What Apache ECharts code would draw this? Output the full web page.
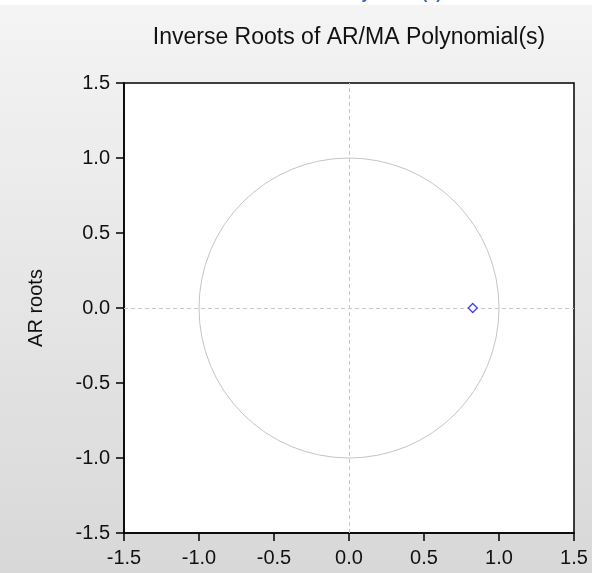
<!DOCTYPE html>
<html>
<head>
<meta charset="utf-8">
<script src="https://cdn.jsdelivr.net/npm/echarts@6/dist/echarts.min.js"></script>
<style>
html,body{margin:0;padding:0;}
#main{width:592px;height:573px;}
</style>
</head>
<body>
<div id="main"></div>
<script>
// Data
const titleText = "Inverse Roots of AR/MA Polynomial(s)";
const yAxisName = "AR roots";
const axisMin = -1.5;
const axisMax = 1.5;
const axisStep = 0.5;
const arRootsRe = [0.825];
const arRootsIm = [0.0];
const unitCircle = [[0, 0, 1]]; // centre x, centre y, radius

const chart = echarts.init(document.getElementById('main'), null, {renderer: 'canvas'});
const font = 'Arial, "Liberation Sans", sans-serif';

const rootPoints = arRootsRe.map((re, i) => [re, arRootsIm[i]]);

const axisCommon = {
  type: 'value',
  min: axisMin,
  max: axisMax,
  interval: axisStep,
  axisLine: {show: true, onZero: false, lineStyle: {color: '#000', width: 1.5}},
  axisTick: {show: true, inside: false, length: 8, lineStyle: {color: '#000', width: 1.5}},
  axisLabel: {
    fontFamily: font, fontSize: 20, color: '#111',
    formatter: v => v.toFixed(1)
  },
  splitLine: {show: false}
};

chart.setOption({
  animation: false,
  backgroundColor: {
    type: 'linear', x: 0, y: 0, x2: 0, y2: 1,
    colorStops: [
      {offset: 0, color: '#ffffff'},
      {offset: 0.0087, color: '#ffffff'},
      {offset: 0.0088, color: '#f4f4f4'},
      {offset: 1, color: '#d8d8d8'}
    ]
  },
  title: {
    text: titleText,
    left: 344, top: 21, textAlign: 'center',
    textStyle: {fontFamily: font, fontSize: 23, fontWeight: 'normal', color: '#111'}
  },
  graphic: [{
    type: 'text', left: 150, top: -13, z: 0,
    style: {text: titleText, font: 'bold 16px ' + font, fill: '#2f62c6'}
  }],
  grid: {
    left: 124, top: 83, width: 450, height: 450,
    show: true, backgroundColor: '#fff', borderColor: '#000', borderWidth: 1.5
  },
  xAxis: Object.assign({}, axisCommon, {
    axisLabel: Object.assign({}, axisCommon.axisLabel, {margin: 15})
  }),
  yAxis: Object.assign({}, axisCommon, {
    name: yAxisName,
    nameLocation: 'middle',
    nameRotate: 90,
    nameGap: 78,
    nameTextStyle: {fontFamily: font, fontSize: 20, color: '#111'},
    axisLabel: Object.assign({}, axisCommon.axisLabel, {margin: 14})
  }),
  series: [
    {
      type: 'custom',
      data: unitCircle,
      silent: true,
      z: 1,
      renderItem: function (params, api) {
        const c = api.coord([api.value(0), api.value(1)]);
        const r = api.size([api.value(2), api.value(2)])[0];
        return {
          type: 'circle',
          shape: {cx: c[0], cy: c[1], r: r},
          style: {fill: 'none', stroke: '#c4c4c4', lineWidth: 1}
        };
      }
    },
    {
      type: 'scatter',
      data: rootPoints,
      symbol: 'diamond',
      symbolSize: 9,
      z: 5,
      itemStyle: {color: '#fff', borderColor: '#1010ff', borderWidth: 1.3},
      markLine: {
        silent: true,
        symbol: 'none',
        label: {show: false},
        lineStyle: {color: '#c8c8c8', type: [4, 3], width: 1},
        data: [{xAxis: 0}, {yAxis: 0}]
      }
    }
  ]
});
</script>
</body>
</html>
